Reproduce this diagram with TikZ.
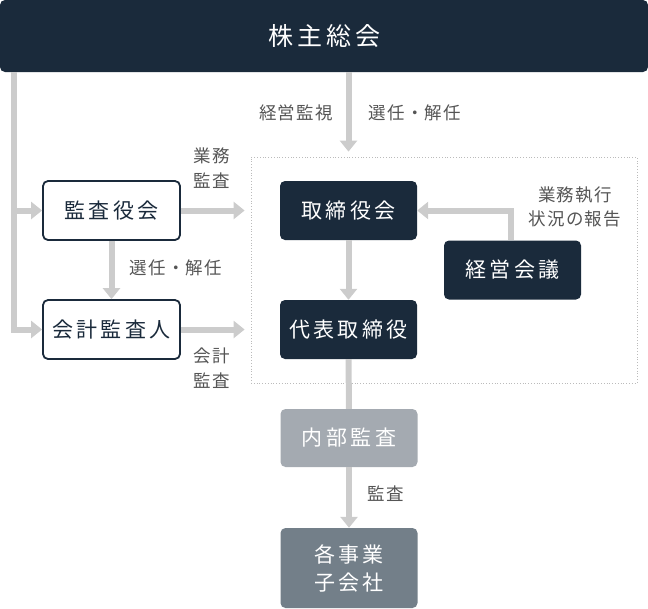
\documentclass[tikz,border=0pt]{standalone}
\usepackage{fontspec}
\setmainfont{Noto Sans CJK JP}[LetterSpace=16]
\newfontfamily\notefont{Noto Sans CJK JP}[LetterSpace=7]
\usetikzlibrary{arrows.meta}
\definecolor{navy}{HTML}{1A2A3B}
\definecolor{flow}{HTML}{CCCCCC}
\definecolor{note}{HTML}{555555}
\definecolor{naibugray}{HTML}{A4AAB1}
\definecolor{subgray}{HTML}{737F89}
\definecolor{frameline}{HTML}{BBBBBB}
\begin{document}
\begin{tikzpicture}[x=1pt, y=-1pt,
  box/.style={rounded corners=5pt, minimum width=137pt, minimum height=59pt, inner sep=0pt, align=center, font=\fontsize{21}{28}\selectfont},
  darkbox/.style={box, fill=navy, text=white},
  whitebox/.style={box, draw=navy, line width=1.8pt, fill=white, text=navy},
  arr/.style={draw=flow, line width=6pt, -{Triangle[width=17pt, length=11pt]}},
  line/.style={draw=flow, line width=6pt},
  lbl/.style={text=note, align=center, inner sep=0pt, font=\notefont\fontsize{17.5}{24.5}\selectfont}]
  \useasboundingbox (0,0) rectangle (648,608);

  % Define the nodes
  \node[box, fill=navy, text=white, minimum width=648pt, minimum height=72pt, font=\fontsize{25}{30}\selectfont] (soukai) at (324,36) {株主総会};
  \node[draw=frameline, dotted, line width=0.8pt, minimum width=386pt, minimum height=226pt] (shikko) at (444,270) {};
  \node[whitebox] (kansayaku) at (111.5,210.5) {監査役会};
  \node[whitebox] (kaikei) at (111.5,329.5) {会計監査人};
  \node[darkbox] (torishimari) at (348.5,210.5) {取締役会};
  \node[darkbox] (daihyo) at (348.5,329.5) {代表取締役};
  \node[darkbox] (keiei) at (512.5,270) {経営会議};
  \node[box, fill=naibugray, text=white, minimum height=58pt] (naibu) at (349,438) {内部監査};
  \node[box, fill=subgray, text=white, minimum height=80pt] (kogaisha) at (349,568) {各事業\\子会社};

  % Draw the arrows
  \coordinate (trunk) at (14,72);
  \draw[arr] (trunk) |- (kansayaku.west);
  \draw[arr] (trunk) |- (kaikei.west);
  \draw[arr, shorten >=5pt] (soukai.south -| torishimari) -- (shikko.north -| torishimari);
  \draw[arr] (kansayaku) -- (kaikei);
  \draw[arr, shorten >=6pt] (kansayaku.east) -- (kansayaku.east -| shikko.west);
  \draw[arr, shorten >=6pt] (kaikei.east) -- (kaikei.east -| shikko.west);
  \draw[arr] (torishimari) -- (daihyo);
  \draw[arr] (keiei.north -| 511,0) |- (torishimari.east);
  \draw[line] (daihyo) -- (naibu);
  \draw[arr] (naibu) -- (kogaisha);

  % Labels
  \node[lbl] (kanshi) at (296,113) {経営監視};
  \node[lbl] (sennin1) at (415,113) {選任・解任};
  \node[lbl] (gyomu) at (212,168) {業務\\監査};
  \node[lbl] (sennin2) at (176,268) {選任・解任};
  \node[lbl] (kaikeikansa) at (212,368) {会計\\監査};
  \node[lbl] (houkoku) at (575,207) {業務執行\\状況の報告};
  \node[lbl] (kansa) at (386,494) {監査};
\end{tikzpicture}
\end{document}
